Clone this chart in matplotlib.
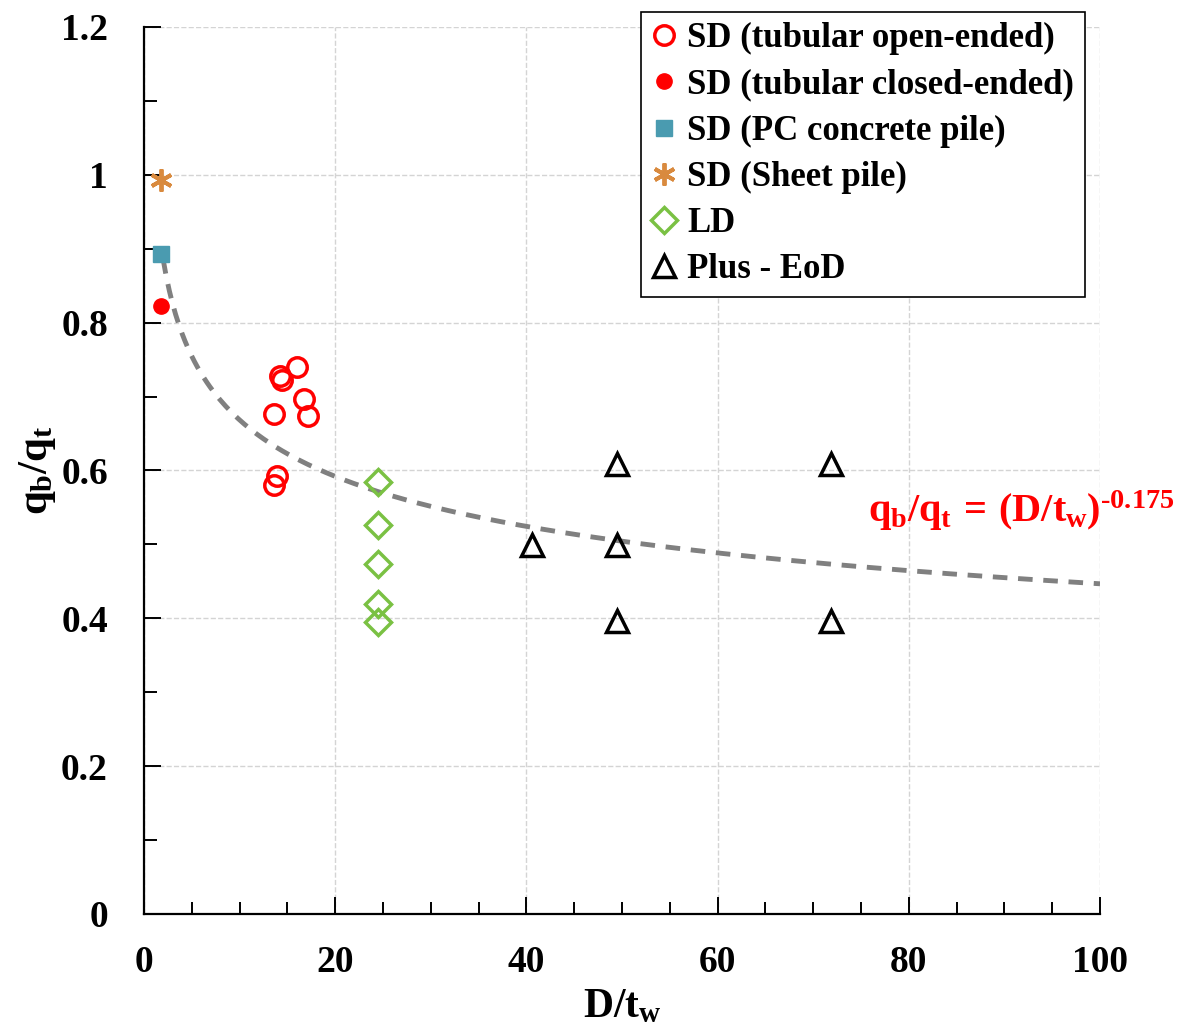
import matplotlib
matplotlib.use('Agg')
import matplotlib.pyplot as plt
import numpy as np

matplotlib.rcParams['font.family'] = ['Liberation Serif', 'DejaVu Serif']
matplotlib.rcParams['font.weight'] = 'bold'
matplotlib.rcParams['mathtext.fontset'] = 'custom'
matplotlib.rcParams['mathtext.rm'] = 'Liberation Serif:bold'
matplotlib.rcParams['mathtext.it'] = 'Liberation Serif:bold'
matplotlib.rcParams['mathtext.bf'] = 'Liberation Serif:bold'

# data
open_x = [13.6, 13.9, 13.6, 14.2, 14.4, 16.0, 16.7, 17.2]
open_y = [0.580, 0.592, 0.677, 0.728, 0.722, 0.740, 0.697, 0.674]
closed_x = [1.8]
closed_y = [0.822]
pc_x = [1.8]
pc_y = [0.893]
sheet_x = [1.8]
sheet_y = [0.993]
ld_x = [24.5, 24.5, 24.5, 24.5, 24.5]
ld_y = [0.584, 0.526, 0.474, 0.420, 0.395]
plus_x = [40.6, 49.5, 49.5, 49.5, 71.9, 71.9]
plus_y = [0.499, 0.609, 0.499, 0.397, 0.609, 0.397]

# fitted curve q_b/q_t = (D/t_w)^-0.175
fit_exp = -0.175
fit_x = np.linspace(2.0, 100, 300)
fit_y = fit_x ** fit_exp

fig = plt.figure(figsize=(11.91, 10.34), dpi=100)
ax = fig.add_axes([0.1209, 0.1161, 0.8027, 0.8578])

ax.plot(fit_x, fit_y, '--', color='#808080', lw=3.5, dashes=(3, 2.2), zorder=2)

ax.plot(open_x, open_y, 'o', mfc='none', mec='#ff0000', ms=14, mew=2.5, ls='none',
        label='SD (tubular open-ended)', zorder=3)
ax.plot(closed_x, closed_y, 'o', color='#ff0000', ms=11, ls='none',
        label='SD (tubular closed-ended)', zorder=3)
ax.plot(pc_x, pc_y, 's', color='#4a9bb0', ms=12, ls='none',
        label='SD (PC concrete pile)', zorder=3)
ax.plot(sheet_x, sheet_y, marker=(6, 2, 0), color='#d98a3e', mec='#d98a3e', ms=16, mew=2.8,
        ls='none', label='SD (Sheet pile)', zorder=3)
ax.plot(ld_x, ld_y, 'D', mfc='none', mec='#7ac143', ms=13, mew=2.5, ls='none',
        label='LD', zorder=3)
ax.plot(plus_x, plus_y, '^', mfc='none', mec='black', ms=16, mew=2.5, ls='none',
        label='Plus - EoD', zorder=3)

ax.set_xlim(0, 100)
ax.set_ylim(0, 1.2)
ax.set_xticks([0, 20, 40, 60, 80, 100])
ax.set_xticks(np.arange(0, 101, 5), minor=True)
ax.set_yticks([0, 0.2, 0.4, 0.6, 0.8, 1.0, 1.2])
ax.set_yticklabels(['0', '0.2', '0.4', '0.6', '0.8', '1', '1.2'])
ax.set_yticks(np.arange(0, 1.21, 0.1), minor=True)
ax.tick_params(axis='both', which='major', direction='in', length=12, width=1.4,
               labelsize=27)
ax.tick_params(axis='both', which='minor', direction='in', length=9, width=1.4)
ax.tick_params(axis='x', which='major', pad=22)
ax.tick_params(axis='y', which='major', pad=26)

for s in ['top', 'right']:
    ax.spines[s].set_visible(False)
for s in ['left', 'bottom']:
    ax.spines[s].set_linewidth(1.6)

ax.grid(True, which='major', ls='--', color='#d4d4d4', lw=1)
ax.set_axisbelow(True)

ax.set_xlabel('$D/t_w$', fontsize=30, labelpad=6)
ax.set_ylabel('$q_b/q_t$', fontsize=31, labelpad=2)

ax.text(75.7, 0.546, '$q_b/q_t\\,=\\,(D/t_w)^{\u2010 0.175}$', color='#ff0000', fontsize=29,
        va='center', ha='left', clip_on=False)

leg = ax.legend(loc='upper right', bbox_to_anchor=(0.984, 1.017), borderaxespad=0,
                frameon=True, fancybox=False, edgecolor='black', framealpha=1,
                handlelength=0.75, handletextpad=0.3, borderpad=0.3,
                labelspacing=0.38, prop={'weight': 'bold', 'size': 25})
leg.get_frame().set_linewidth(1.2)

plt.savefig('out.png', dpi=100)
plt.close()
